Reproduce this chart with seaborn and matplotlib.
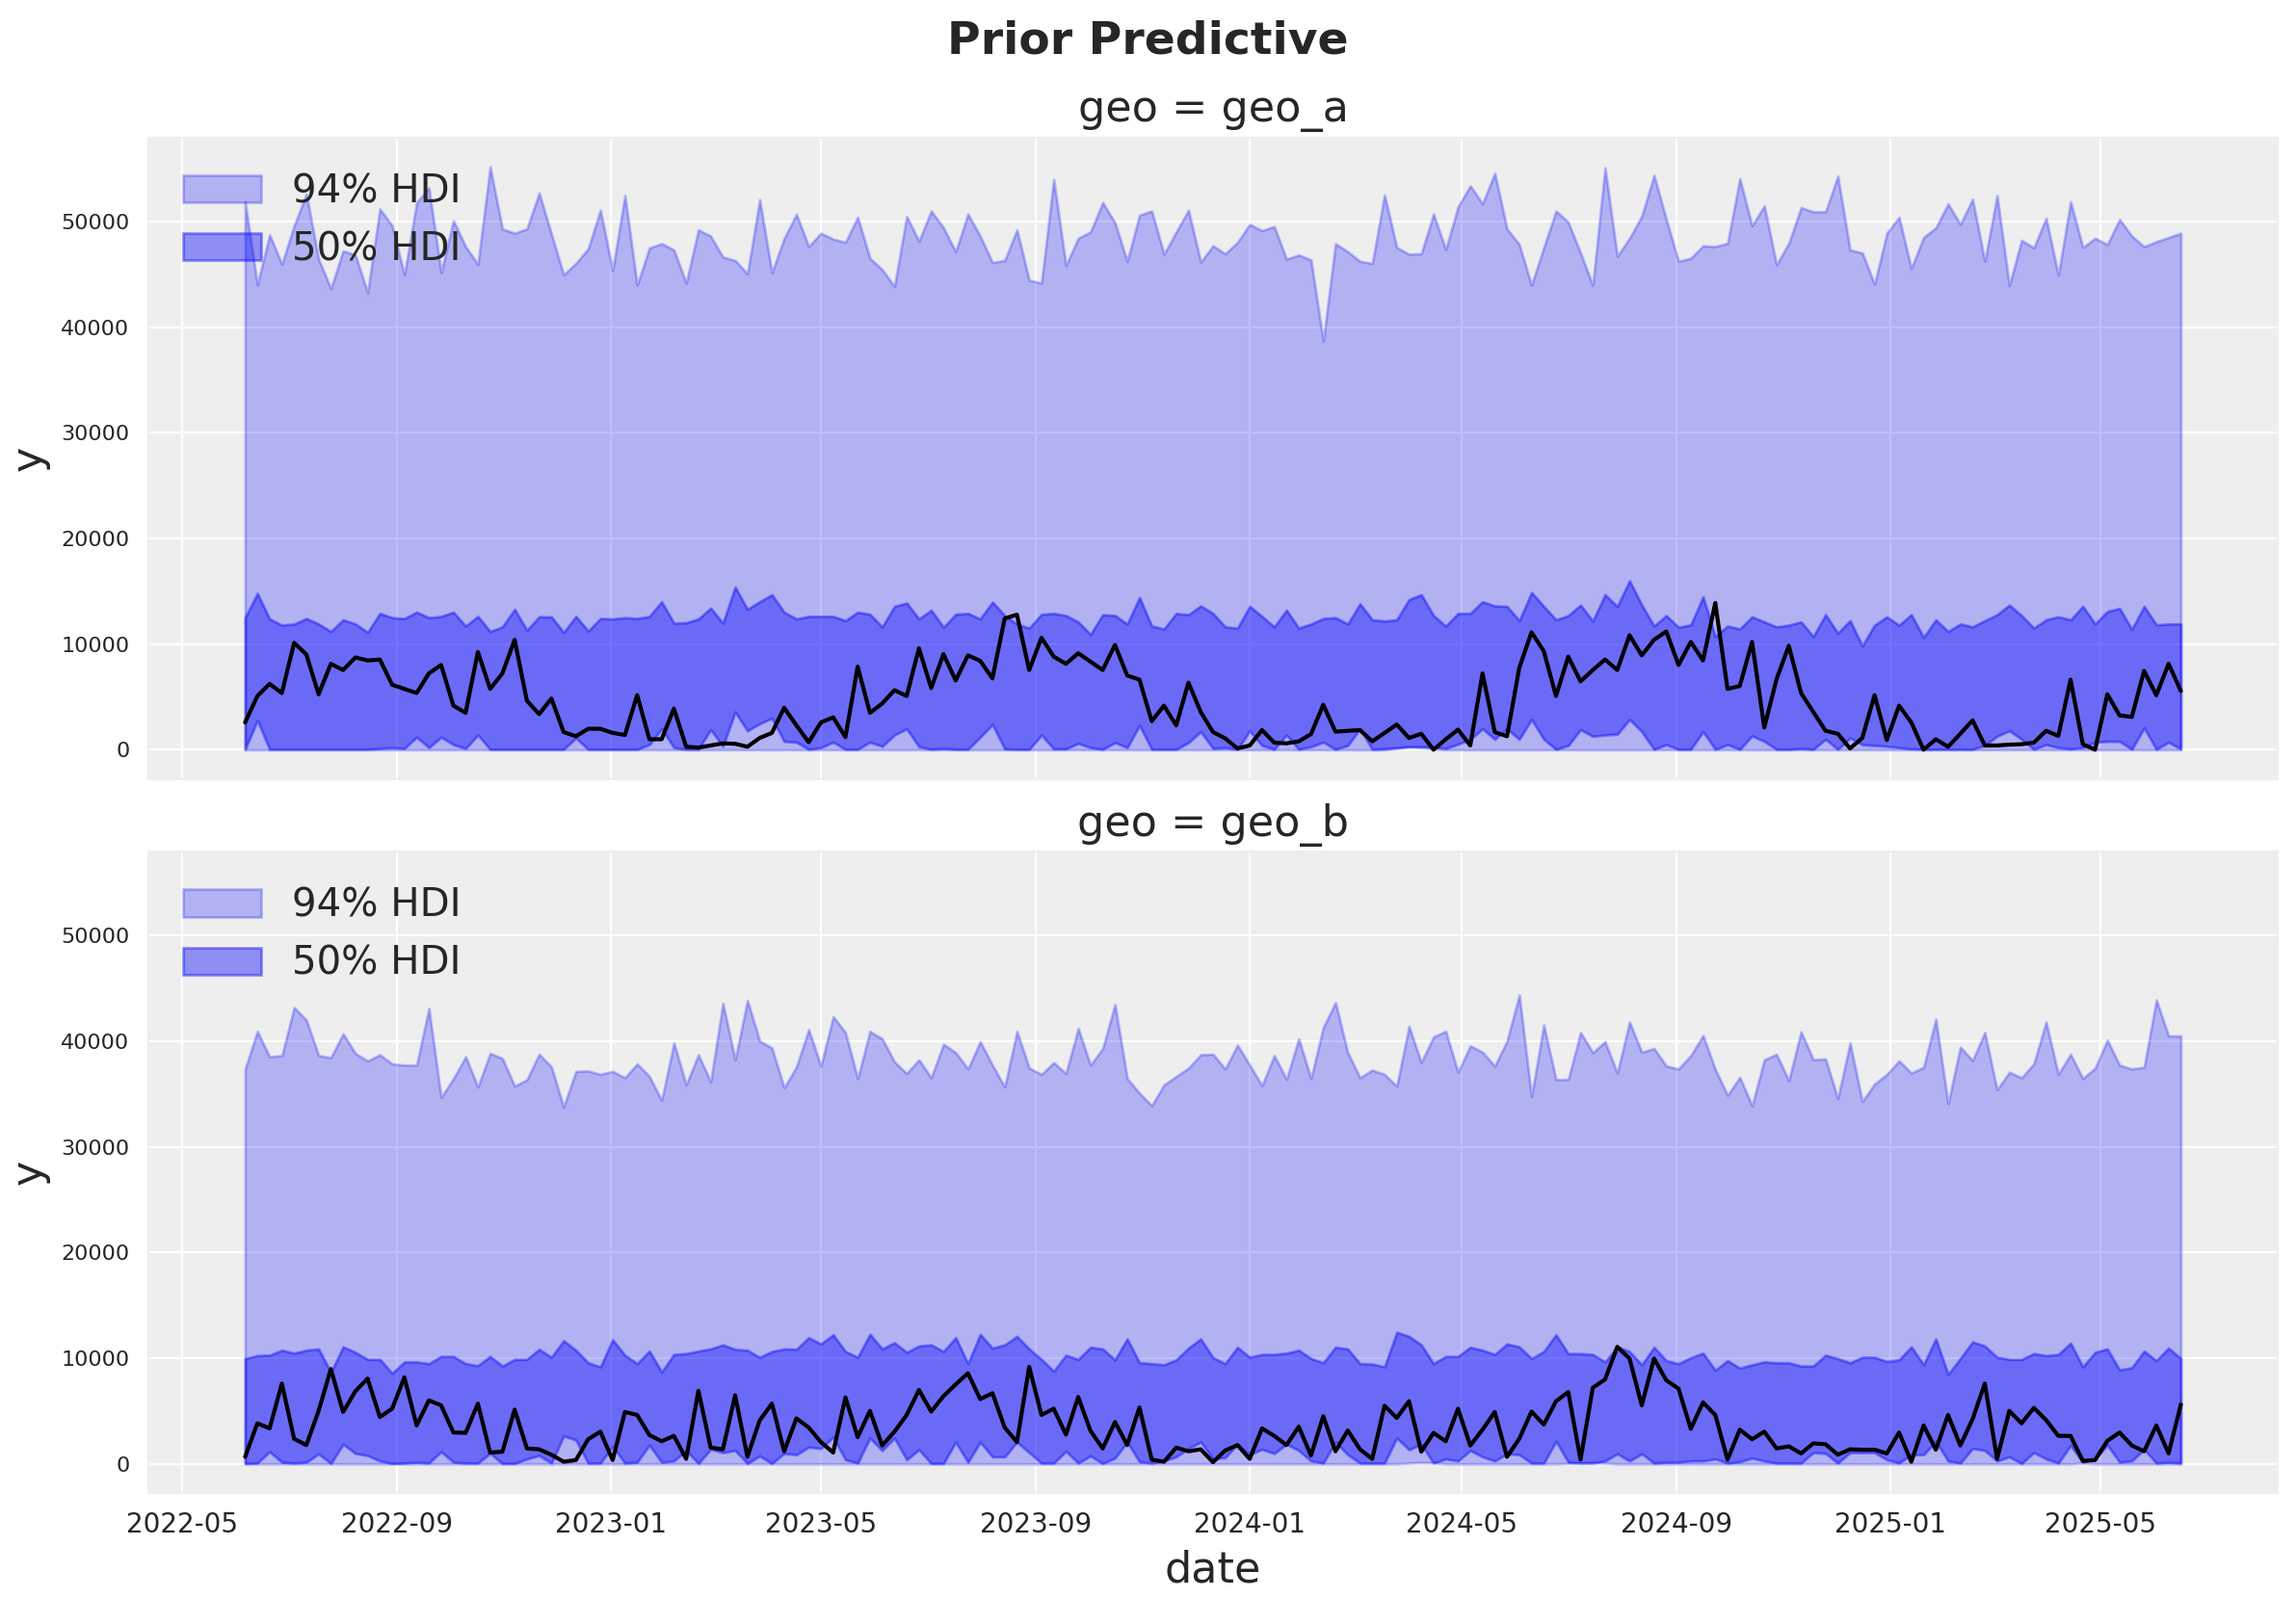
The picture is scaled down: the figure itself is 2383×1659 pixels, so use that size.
import pandas as pd
import matplotlib
matplotlib.use("Agg")
import matplotlib.pyplot as plt
import matplotlib.dates as mdates
import seaborn as sns

# weekly dates, Monday 2022-06-06 .. 2025-06-16
dates = pd.date_range("2022-06-06", "2025-06-16", freq="7D")

# ---------------- geo_a ----------------
a_hdi94_low = [
    0, 0, 0, 0, 0, 0, 0, 0, 0, 0,
    0, 0, 0, 0, 0, 0, 0, 0, 0, 0,
    0, 0, 0, 0, 0, 0, 0, 0, 0, 0,
    0, 0, 0, 0, 0, 0, 0, 0, 0, 0,
    0, 0, 0, 0, 0, 0, 0, 0, 0, 0,
    0, 0, 0, 0, 0, 0, 0, 0, 0, 0,
    0, 0, 0, 0, 0, 0, 0, 0, 0, 0,
    0, 0, 0, 0, 0, 0, 0, 0, 0, 0,
    0, 0, 0, 0, 0, 0, 0, 0, 0, 0,
    0, 0, 0, 0, 120, 250, 200, 80, 0, 0,
    0, 0, 0, 0, 0, 0, 0, 0, 0, 0,
    0, 0, 0, 0, 0, 0, 0, 0, 0, 0,
    0, 0, 0, 0, 0, 0, 0, 0, 0, 0,
    0, 0, 0, 0, 0, 0, 0, 0, 0, 0,
    0, 0, 0, 0, 0, 0, 0, 0, 0, 0,
    0, 0, 0, 0, 0, 0, 0, 0, 0,
]
a_hdi94_high = [
    51865, 44000, 48730, 45950, 49600, 52580, 46430, 43650, 47220, 46830,
    43250, 51190, 49600, 44960, 51790, 53175, 45160, 50080, 47620, 45950,
    55160, 49290, 48890, 49290, 52700, 48810, 44960, 46030, 47420, 51070,
    45360, 52460, 43970, 47500, 47900, 47300, 44170, 49200, 48610, 46630,
    46310, 45040, 52060, 45160, 48410, 50670, 47620, 48890, 48330, 48020,
    50400, 46510, 45440, 43850, 50480, 48130, 50990, 49400, 47140, 50710,
    48610, 46110, 46310, 49200, 44440, 44170, 53970, 45830, 48410, 49010,
    51790, 49880, 46230, 50590, 50990, 46900, 49010, 51070, 46150, 47700,
    46940, 48020, 49720, 49130, 49520, 46430, 46830, 46350, 38690, 47900,
    47140, 46230, 46030, 52500, 47540, 46900, 46940, 50710, 47340, 51390,
    53370, 51670, 54560, 49290, 47820, 43970, 47540, 50990, 49920, 47020,
    43970, 55080, 46710, 48410, 50510, 54360, 50190, 46230, 46510, 47700,
    47620, 47940, 54050, 49600, 51470, 45910, 47940, 51310, 50910, 50910,
    54280, 47300, 47020, 44050, 48890, 50390, 45550, 48490, 49400, 51670,
    49720, 52100, 46230, 52460, 43930, 48210, 47500, 50310, 44920, 51860,
    47540, 48410, 47820, 50190, 48610, 47620, 48090, 48490, 48890,
]
a_hdi50_low = [
    40, 2780, 40, 40, 40, 40, 40, 40, 40, 40,
    40, 120, 200, 120, 1190, 200, 1190, 480, 120, 1390,
    40, 40, 40, 40, 40, 40, 40, 1110, 40, 40,
    40, 40, 40, 480, 1980, 200, 40, 40, 1900, 320,
    3570, 1790, 2460, 2980, 790, 710, 40, 200, 710, 40,
    40, 710, 320, 1390, 1980, 280, 40, 120, 40, 40,
    1190, 2380, 80, 40, 40, 1390, 80, 80, 600, 200,
    40, 670, 200, 2300, 40, 40, 40, 670, 1710, 120,
    200, 40, 1790, 400, 40, 1390, 40, 280, 710, 40,
    400, 1980, 40, 80, 200, 300, 300, 250, 120, 520,
    990, 1980, 990, 1980, 990, 2860, 990, 40, 400, 1900,
    1270, 1390, 1470, 2860, 1710, 40, 480, 40, 40, 1710,
    40, 480, 40, 1310, 790, 40, 40, 120, 40, 990,
    40, 1110, 480, 400, 320, 200, 80, 40, 40, 40,
    40, 40, 400, 1270, 1790, 990, 40, 480, 200, 80,
    200, 710, 790, 790, 40, 2060, 40, 710, 80,
]
a_hdi50_high = [
    12500, 14800, 12380, 11790, 11900, 12420, 11900, 11190, 12300, 11900,
    11110, 12900, 12500, 12420, 13020, 12500, 12620, 13020, 11710, 12620,
    11190, 11630, 13290, 11310, 12580, 12580, 11110, 12620, 11230, 12420,
    12380, 12500, 12420, 12620, 14010, 11980, 12020, 12380, 13410, 11980,
    15400, 13290, 14010, 14680, 13020, 12380, 12620, 12620, 12620, 12220,
    13020, 12820, 11630, 13570, 13890, 12380, 13210, 11590, 12820, 12900,
    12380, 13970, 12700, 11900, 11510, 12820, 12900, 12700, 12100, 10910,
    12780, 12700, 11900, 14400, 11710, 11430, 12900, 12780, 13610, 12900,
    11630, 11510, 13570, 12620, 11630, 13210, 11510, 11900, 12420, 12500,
    11900, 13810, 12300, 12180, 12300, 14210, 14680, 12700, 11710, 12900,
    12900, 14010, 13610, 13570, 12220, 14880, 13570, 12300, 12700, 13690,
    12180, 14680, 13570, 15990, 13690, 11710, 12700, 11590, 11820, 14480,
    10710, 11710, 11430, 12580, 12100, 11630, 11790, 12100, 10710, 12780,
    11030, 12220, 9840, 11790, 12580, 11790, 12780, 10630, 12300, 11190,
    11900, 11630, 12220, 12780, 13690, 12700, 11510, 12300, 12580, 12300,
    13570, 11900, 13090, 13370, 11390, 13570, 11820, 11900, 11900,
]
a_observed = [
    2580, 5080, 6230, 5360, 10120, 9010, 5240, 8130, 7540, 8730,
    8450, 8530, 6150, 5750, 5360, 7220, 8020, 4170, 3490, 9250,
    5750, 7220, 10400, 4640, 3370, 4840, 1670, 1270, 1980, 1980,
    1590, 1390, 5160, 990, 990, 3890, 280, 200, 400, 600,
    560, 280, 1110, 1590, 3970, 2300, 710, 2580, 3060, 1190,
    7860, 3490, 4370, 5630, 5080, 9600, 5830, 9050, 6550, 8930,
    8410, 6750, 12420, 12780, 7540, 10590, 8810, 8130, 9130, 8330,
    7540, 9920, 7020, 6630, 2700, 4170, 2300, 6350, 3570, 1670,
    1070, 120, 400, 1860, 670, 600, 790, 1470, 4250, 1710,
    1790, 1860, 790, 1590, 2380, 1110, 1510, 0, 990, 1900,
    400, 7220, 1670, 1270, 7740, 11110, 9330, 5080, 8810, 6470,
    7540, 8530, 7540, 10830, 8930, 10400, 11190, 8020, 10200, 8450,
    13890, 5750, 6030, 10200, 2100, 6670, 9840, 5360, 3570, 1790,
    1510, 120, 1110, 5160, 910, 4170, 2580, 0, 990, 280,
    1510, 2780, 400, 400, 480, 520, 670, 1790, 1310, 6630,
    520, 0, 5240, 3250, 3100, 7460, 5160, 8130, 5560,
]

# ---------------- geo_b ----------------
b_hdi94_low = [
    0, 0, 0, 0, 0, 0, 0, 0, 0, 0,
    0, 0, 0, 0, 0, 0, 0, 0, 0, 0,
    0, 0, 0, 0, 0, 0, 0, 0, 0, 0,
    0, 0, 0, 0, 0, 0, 0, 0, 0, 0,
    0, 0, 0, 0, 0, 0, 0, 0, 0, 0,
    0, 0, 0, 0, 0, 0, 0, 0, 0, 0,
    0, 0, 0, 0, 0, 0, 0, 0, 0, 0,
    0, 0, 0, 0, 0, 0, 0, 0, 0, 0,
    0, 0, 0, 0, 0, 0, 0, 0, 0, 0,
    0, 0, 0, 0, 0, 80, 120, 100, 0, 0,
    0, 0, 0, 0, 0, 0, 0, 0, 60, 100,
    120, 80, 0, 0, 0, 0, 0, 0, 0, 0,
    0, 0, 0, 0, 0, 0, 0, 0, 0, 0,
    0, 0, 0, 0, 0, 0, 0, 0, 0, 0,
    0, 0, 0, 0, 0, 0, 0, 0, 0, 0,
    80, 0, 0, 0, 0, 0, 0, 0, 0,
]
b_hdi94_high = [
    37380, 40940, 38530, 38650, 43200, 42010, 38650, 38450, 40710, 38850,
    38140, 38730, 37860, 37740, 37740, 43120, 34690, 36470, 38530, 35680,
    38850, 38370, 35760, 36360, 38770, 37580, 33780, 37150, 37190, 36870,
    37150, 36550, 37860, 36670, 34420, 39840, 35880, 38730, 36160, 43600,
    38250, 43870, 40030, 39360, 35600, 37580, 41100, 37660, 42330, 40830,
    36470, 40940, 40230, 38060, 36950, 38250, 36550, 39720, 38930, 37380,
    39960, 37740, 35680, 40940, 37460, 36870, 37980, 36950, 41220, 37740,
    39320, 43480, 36470, 35090, 33900, 35880, 36670, 37460, 38730, 38770,
    37380, 39640, 37740, 35800, 38650, 36400, 40230, 36470, 41300, 43670,
    38930, 36550, 37270, 36870, 35760, 41420, 37980, 40430, 40940, 37070,
    39560, 38970, 37660, 40030, 44390, 34770, 41540, 36360, 36400, 40830,
    38930, 39960, 36990, 41820, 38970, 39320, 37660, 37380, 38650, 40550,
    37340, 34890, 36590, 33900, 38250, 38770, 36280, 40900, 38250, 38330,
    34580, 39840, 34300, 35960, 36870, 38140, 36990, 37540, 42090, 34100,
    39440, 38180, 40830, 35410, 37070, 36550, 37860, 41820, 36870, 38770,
    36470, 37460, 40110, 37740, 37380, 37540, 43910, 40510, 40510,
]
b_hdi50_low = [
    40, 80, 1150, 160, 80, 160, 950, 40, 1860, 990,
    790, 280, 40, 80, 160, 80, 1150, 160, 80, 80,
    990, 40, 40, 470, 790, 80, 2650, 2250, 80, 80,
    1660, 80, 160, 1780, 160, 280, 1270, 40, 1380, 1070,
    1270, 40, 750, 40, 990, 870, 1580, 1460, 2530, 400,
    80, 2450, 1270, 2450, 400, 1340, 40, 40, 2060, 160,
    2060, 670, 670, 2060, 1070, 80, 80, 1190, 80, 750,
    40, 550, 2060, 200, 80, 280, 670, 1460, 2060, 470,
    590, 1860, 870, 1380, 990, 1860, 1270, 280, 80, 2060,
    870, 80, 80, 80, 2450, 1340, 1860, 80, 470, 280,
    1270, 670, 280, 950, 870, 80, 80, 2140, 160, 80,
    80, 280, 950, 280, 950, 80, 160, 160, 280, 280,
    470, 80, 200, 550, 280, 80, 80, 80, 1070, 990,
    80, 1070, 1070, 1070, 400, 80, 870, 870, 2140, 280,
    80, 1460, 1270, 280, 670, 40, 1070, 470, 80, 1740,
    160, 470, 1780, 160, 280, 1380, 80, 160, 80,
]
b_hdi50_high = [
    9970, 10250, 10290, 10760, 10480, 10760, 10880, 8660, 11080, 10560,
    9890, 9890, 8580, 9650, 9650, 9490, 10170, 10170, 9490, 9300,
    10170, 9260, 9890, 9890, 10840, 10090, 11670, 10760, 9570, 9180,
    11750, 10290, 9490, 10680, 8700, 10360, 10440, 10680, 10880, 11270,
    10840, 10760, 10090, 10640, 10880, 10840, 11950, 11350, 12220, 10640,
    10090, 12260, 10880, 11470, 10560, 11160, 11270, 10640, 11950, 9490,
    12260, 10960, 11270, 12070, 10880, 9890, 8780, 10290, 9890, 11040,
    10880, 9850, 11830, 9570, 9490, 9380, 9850, 10960, 11830, 10050,
    9490, 11040, 10090, 10360, 10360, 10480, 10760, 9970, 9570, 11040,
    10880, 9490, 9450, 9180, 12460, 12070, 11270, 9490, 10170, 10170,
    11040, 10760, 10360, 11350, 11080, 9970, 10640, 12220, 10440, 10440,
    10360, 9650, 11080, 10640, 9380, 11040, 9770, 9490, 10050, 10480,
    8860, 9770, 9060, 9380, 9650, 9570, 9570, 9260, 9260, 10290,
    9970, 9570, 10090, 10090, 9690, 9850, 11080, 9380, 11830, 8470,
    9970, 11550, 11160, 10090, 9890, 9890, 10440, 10250, 10360, 11430,
    9180, 10560, 10880, 8900, 9100, 10680, 9770, 10960, 9970,
]
b_observed = [
    670, 3840, 3360, 7600, 2370, 1780, 5020, 8980, 4910, 6880,
    8070, 4430, 5220, 8190, 3640, 6010, 5540, 2970, 2930, 5700,
    1070, 1150, 5140, 1460, 1380, 870, 200, 360, 2330, 3050,
    360, 4910, 4630, 2730, 2140, 2650, 470, 6920, 1540, 1380,
    6490, 670, 4110, 5700, 1190, 4310, 3440, 2060, 1070, 6290,
    2530, 5020, 1740, 3050, 4630, 7000, 4950, 6410, 7520, 8580,
    6130, 6690, 3440, 2060, 9180, 4630, 5220, 2770, 6330, 3130,
    1460, 3960, 1780, 5340, 400, 200, 1540, 1190, 1380, 160,
    1270, 1780, 470, 3360, 2650, 1780, 3520, 790, 4510, 1190,
    3160, 1380, 470, 5500, 4350, 5930, 1150, 2930, 2140, 5220,
    1740, 3240, 4910, 670, 2370, 4950, 3720, 5930, 6800, 400,
    7200, 7990, 11080, 9970, 5540, 9970, 7910, 7120, 3320, 5820,
    4630, 400, 3240, 2330, 3050, 1460, 1660, 990, 1940, 1860,
    870, 1380, 1340, 1340, 990, 2970, 200, 3640, 1340, 4630,
    1740, 4230, 7600, 470, 5020, 3840, 5300, 4150, 2650, 2650,
    280, 360, 2180, 2970, 1740, 1190, 3640, 990, 5620,
]

geos = ["geo_a", "geo_b"]
panels = [
    (a_hdi94_low, a_hdi94_high, a_hdi50_low, a_hdi50_high, a_observed),
    (b_hdi94_low, b_hdi94_high, b_hdi50_low, b_hdi50_high, b_observed),
]

sns.set_style("darkgrid", {
    "axes.facecolor": "#eeeeee",
    "axes.edgecolor": "#eeeeee",
    "grid.color": "white",
    "grid.linewidth": 0.9,
})
plt.rcParams["font.family"] = ["DejaVu Sans"]

fig, axes = plt.subplots(2, 1, figsize=(2383 / 200, 1659 / 200), dpi=200,
                         sharex=True, sharey=True)
fig.subplots_adjust(left=0.0646, right=0.992, top=0.9138, bottom=0.0657, hspace=0.114)

for ax, geo, (lo94, hi94, lo50, hi50, obs) in zip(axes, geos, panels):
    h94 = ax.fill_between(dates, lo94, hi94, color="blue", alpha=0.25, label="94% HDI")
    h50 = ax.fill_between(dates, lo50, hi50, color="blue", alpha=0.4, label="50% HDI")
    sns.lineplot(x=dates, y=obs, color="black", linewidth=1.5, ax=ax)
    ax.legend(handles=[h94, h50], loc="upper left", fontsize=14.5, frameon=False)
    ax.set_title(f"geo = {geo}", fontsize=16)
    ax.set_ylabel("y", fontsize=16)
    ax.tick_params(axis="y", labelsize=8)
    ax.tick_params(axis="x", labelsize=10)

axes[1].xaxis.set_major_locator(mdates.MonthLocator(bymonth=[1, 5, 9]))
axes[1].xaxis.set_major_formatter(mdates.DateFormatter("%Y-%m"))
axes[1].set_xlabel("date", fontsize=16)

fig.suptitle("Prior Predictive", fontsize=17, fontweight="bold", y=0.9668, va="baseline")
fig.savefig("out.png", dpi=200)
